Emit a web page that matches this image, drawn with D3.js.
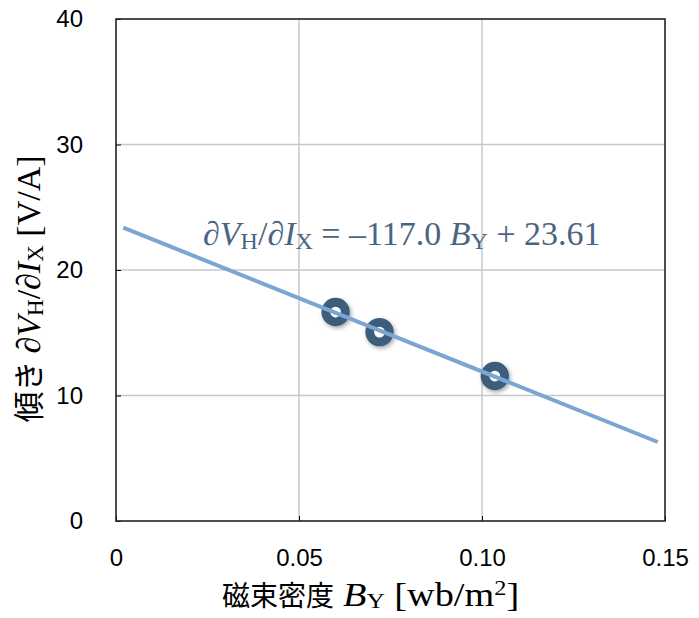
<!DOCTYPE html>
<html><head><meta charset="utf-8">
<script src="https://cdn.jsdelivr.net/npm/d3@7"></script>
<style>body{margin:0;background:#fff}</style>
</head><body>
<svg id="c" width="699" height="618"></svg>
<script>
const xValues = [0.060, 0.072, 0.1035];
const yValues = [16.65, 15.05, 11.55];
const fitSlope = -117.0, fitIntercept = 23.61;
const fitRange = [0.002, 0.148];
const xTicks = [0, 0.05, 0.10, 0.15];
const xTickLabels = ["0", "0.05", "0.10", "0.15"];
const yTicks = [0, 10, 20, 30, 40];

const svg = d3.select("#c");
const L = 116, R = 665, T = 19, B = 521;
const x = d3.scaleLinear().domain([0, 0.15]).range([L, R]);
const y = d3.scaleLinear().domain([0, 40]).range([B, T]);

const defs = svg.append("defs");
const f = defs.append("filter").attr("id","sh").attr("x","-50%").attr("y","-50%").attr("width","200%").attr("height","200%");
f.append("feDropShadow").attr("dx",1.5).attr("dy",2).attr("stdDeviation",2).attr("flood-color","#000").attr("flood-opacity",0.35);

// grid
svg.append("g").selectAll("line").data(xTicks.slice(1,-1)).join("line")
  .attr("x1",d=>x(d)).attr("x2",d=>x(d)).attr("y1",T).attr("y2",B)
  .attr("stroke","#c8c8c8").attr("stroke-width",1.5);
svg.append("g").selectAll("line").data(yTicks.slice(1,-1)).join("line")
  .attr("y1",d=>y(d)).attr("y2",d=>y(d)).attr("x1",L).attr("x2",R)
  .attr("stroke","#c8c8c8").attr("stroke-width",1.5);

const sans = "Liberation Sans, Arial, sans-serif";
const xAxis = d3.axisBottom(x).tickValues(xTicks).tickSize(-5).tickFormat((d,i)=>xTickLabels[i]).tickPadding(28);
const gx = svg.append("g").attr("transform",`translate(0,${B})`).call(xAxis);
gx.attr("font-size",null).attr("font-family",null);
gx.select(".domain").remove();
gx.selectAll("line").attr("stroke","#000");
gx.selectAll("text").style("font-family",sans).style("font-size","24px").attr("fill","#000");
const yAxis = d3.axisLeft(y).tickValues(yTicks).tickSize(-5).tickPadding(33);
const gy = svg.append("g").attr("transform",`translate(${L},0)`).call(yAxis);
gy.attr("font-size",null).attr("font-family",null);
gy.select(".domain").remove();
gy.selectAll("line").attr("stroke","#000");
gy.selectAll("text").style("font-family",sans).style("font-size","24px").attr("fill","#000");

svg.append("rect").attr("x",L).attr("y",T).attr("width",R-L).attr("height",B-T)
  .attr("fill","none").attr("stroke","#222").attr("stroke-width",1.6);

// points
svg.append("g").selectAll("circle").data(xValues).join("circle")
  .attr("cx",d=>x(d)).attr("cy",(d,i)=>y(yValues[i])).attr("r",9.8)
  .attr("fill","#fff").attr("stroke","#3e5d7c").attr("stroke-width",8.8).attr("filter","url(#sh)");
// fit line drawn over points
svg.append("line")
  .attr("x1",x(fitRange[0])).attr("y1",y(fitSlope*fitRange[0]+fitIntercept))
  .attr("x2",x(fitRange[1])).attr("y2",y(fitSlope*fitRange[1]+fitIntercept))
  .attr("stroke","#7ba6d2").attr("stroke-width",4);

const serif = "Liberation Serif, Times New Roman, serif";
const cjk = "Noto Sans CJK JP";
// annotation
const ann = svg.append("text").attr("x",203).attr("y",245).style("font-family",serif).style("font-size","34px").attr("fill","#4a6582");
ann.append("tspan").text("∂");
ann.append("tspan").attr("font-style","italic").text("V");
ann.append("tspan").style("font-size","24px").attr("dy",4).text("H");
ann.append("tspan").attr("dy",-4).text("/∂");
ann.append("tspan").attr("font-style","italic").text("I");
ann.append("tspan").style("font-size","24px").attr("dy",4).text("X");
ann.append("tspan").attr("dy",-4).text(" = –117.0 ");
ann.append("tspan").attr("font-style","italic").text("B");
ann.append("tspan").style("font-size","24px").attr("dy",4).text("Y");
ann.append("tspan").attr("dy",-4).text(" + 23.61");

// x title
svg.append("text").attr("x",222).attr("y",606).style("font-family",cjk).style("font-size","28px").attr("fill","#000").text("磁束密度");
const xt = svg.append("g").attr("transform","translate(343,606) scale(1.16,1)")
  .append("text").style("font-family",serif).style("font-size","33px").attr("fill","#000");
xt.append("tspan").attr("font-style","italic").text("B");
xt.append("tspan").style("font-size","22px").attr("dy",2).text("Y");
xt.append("tspan").attr("dy",-2).text(" [wb/m");
xt.append("tspan").style("font-size","21px").attr("dy",-11).text("2");
xt.append("tspan").attr("dy",11).text("]");

// y title
const yt = svg.append("text").attr("transform","translate(40,289) rotate(-90)").attr("text-anchor","middle").style("font-family",serif).style("font-size","34px").attr("fill","#000");
yt.append("tspan").style("font-family",cjk).style("font-size","31px").text("傾き ");
yt.append("tspan").text("∂");
yt.append("tspan").attr("font-style","italic").text("V");
yt.append("tspan").style("font-size","23px").attr("dy",3).text("H");
yt.append("tspan").attr("dy",-3).text("/∂");
yt.append("tspan").attr("font-style","italic").text("I");
yt.append("tspan").style("font-size","23px").attr("dy",3).text("X");
yt.append("tspan").attr("dy",-3).text(" [V/A]");
</script>
</body></html>
